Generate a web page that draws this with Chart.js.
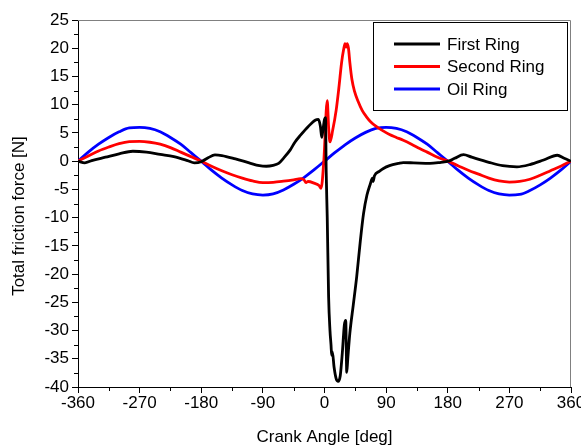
<!DOCTYPE html>
<html>
<head>
<meta charset="utf-8">
<script src="https://cdn.jsdelivr.net/npm/chart.js@4.4.1/dist/chart.umd.min.js"></script>
<style>
  html, body { margin: 0; padding: 0; background: #fff; }
  canvas { display: block; }
</style>
</head>
<body>
<canvas id="frictionChart" width="581" height="448"></canvas>
<script>
// [crank angle (deg), friction force (N)]
const seriesNames = ['First Ring', 'Second Ring', 'Oil Ring'];
const seriesColors = ['#000000', '#ff0000', '#0000ff'];

const firstRing = [
  [-360, 0], [-350, -0.3], [-340, 0.1], [-320, 0.7], [-300, 1.3], [-280, 1.75], [-260, 1.6],
  [-240, 1.2], [-220, 0.8], [-200, 0.1], [-190, -0.3], [-180, -0.1], [-170, 0.6], [-160, 1.1],
  [-150, 1.0], [-130, 0.4], [-110, -0.3], [-95, -0.8], [-85, -0.9], [-75, -0.75], [-67, -0.4],
  [-60, 0.5], [-50, 2.0], [-43, 3.4], [-35, 4.6], [-24, 6.1], [-13, 7.3], [-9, 7.4], [-6, 6.2],
  [-4, 4.2], [-2, 5.8], [0, 7.4], [1.5, 7.7], [2.5, -2], [4, -10], [6, -24], [8, -30],
  [9.5, -32.5], [10.5, -34.4], [11.5, -33.8], [14, -36.5], [17, -38.5], [20, -39], [23, -38],
  [26, -34], [29, -29], [31, -28.2], [32.5, -37.4], [34, -35], [37, -30.5], [42, -25.5],
  [47, -20.5], [52, -14.5], [57, -9.3], [62, -6.0], [67, -4.0], [70, -3.0], [71, -3.6],
  [73, -2.6], [80, -1.8], [86, -1.3], [95, -0.8], [108, -0.4], [115, -0.25], [130, -0.3],
  [154, -0.4], [170, -0.2], [181, 0], [190, 0.5], [203, 1.15], [215, 0.7], [240, -0.2],
  [260, -0.8], [281, -1.0], [300, -0.6], [320, 0.2], [340, 1.05], [350, 0.5], [360, 0]
];

const secondRing = [
  [-360, 0], [-345, 0.9], [-330, 1.8], [-315, 2.5], [-300, 3.1], [-285, 3.45], [-270, 3.5],
  [-255, 3.35], [-240, 3.0], [-225, 2.4], [-210, 1.6], [-195, 0.8], [-180, 0], [-165, -0.9],
  [-150, -1.7], [-135, -2.4], [-120, -3.0], [-105, -3.5], [-90, -3.8], [-75, -3.75],
  [-60, -3.55], [-45, -3.3], [-35, -3.1], [-30, -3.3], [-27, -3.8], [-24, -3.6], [-15, -3.9],
  [-8, -4.3], [-5, -4.8], [-1, 0], [4, 10.7], [6, 6], [8, 3.4], [12, 5.5], [17, 9], [21, 13],
  [25, 17.5], [28, 19.8], [30, 20.8], [32, 20.2], [33, 20.8], [35, 20], [37, 17.5], [40, 14.5],
  [44, 12.3], [49, 10.6], [55, 9], [61, 7.9], [68, 6.9], [76, 6.1], [85, 5.4], [95, 4.7],
  [105, 4.2], [115, 3.7], [127, 3.0], [139, 2.25], [150, 1.6], [165, 0.7], [180, 0],
  [195, -0.8], [210, -1.6], [225, -2.3], [240, -3.0], [255, -3.5], [270, -3.7], [285, -3.6],
  [300, -3.2], [315, -2.5], [330, -1.7], [345, -0.9], [360, 0]
];

const oilRing = [
  [-360, 0], [-345, 1.6], [-330, 3.0], [-315, 4.2], [-300, 5.2], [-285, 5.9], [-270, 6.0],
  [-255, 5.8], [-240, 5.2], [-225, 4.2], [-210, 3.0], [-195, 1.5], [-180, 0], [-165, -1.6],
  [-150, -3.0], [-135, -4.2], [-120, -5.2], [-105, -5.8], [-90, -6.0], [-75, -5.8],
  [-60, -5.1], [-45, -4.1], [-30, -2.9], [-15, -1.5], [0, 0], [15, 1.5], [30, 2.9],
  [45, 4.1], [60, 5.1], [75, 5.8], [90, 6.0], [105, 5.8], [120, 5.2], [135, 4.2], [150, 3.0],
  [165, 1.5], [180, 0], [195, -1.6], [210, -3.0], [225, -4.2], [240, -5.2], [255, -5.8],
  [270, -6.0], [285, -5.9], [300, -5.2], [315, -4.2], [330, -3.0], [345, -1.6], [360, 0]
];

const FONT = 'Liberation Sans, Arial, sans-serif';
const FSIZE = 17;

function toPoints(pairs) {
  return pairs.map(p => ({ x: p[0], y: p[1] }));
}

// gray frame on top/right, minor ticks
const framePlugin = {
  id: 'frame',
  beforeDatasetsDraw(chart) {
    const { ctx, chartArea: a, scales } = chart;
    ctx.save();
    ctx.strokeStyle = '#808080';
    ctx.lineWidth = 1;
    ctx.beginPath();
    ctx.moveTo(a.left, a.top + 0.5);
    ctx.lineTo(a.right - 0.5, a.top + 0.5);
    ctx.lineTo(a.right - 0.5, a.bottom);
    ctx.stroke();

    ctx.strokeStyle = '#000';
    ctx.beginPath();
    for (let v = -315; v < 360; v += 90) {
      const x = Math.round(scales.x.getPixelForValue(v)) + 0.5;
      ctx.moveTo(x, a.bottom);
      ctx.lineTo(x, a.bottom + 4);
    }
    for (let v = -37.5; v < 25; v += 5) {
      const y = Math.round(scales.y.getPixelForValue(v)) + 0.5;
      ctx.moveTo(a.left, y);
      ctx.lineTo(a.left - 4, y);
    }
    ctx.stroke();
    ctx.restore();
  }
};

// boxed legend in the top right corner, and the y axis title
const legendPlugin = {
  id: 'boxLegend',
  afterDraw(chart) {
    const ctx = chart.ctx;
    ctx.save();
    ctx.fillStyle = '#fff';
    ctx.fillRect(373, 22, 194, 88);
    ctx.strokeStyle = '#000';
    ctx.lineWidth = 1;
    ctx.strokeRect(373.5, 22.5, 194, 88);
    ctx.font = FSIZE + 'px ' + FONT;
    ctx.textBaseline = 'middle';
    chart.data.datasets.forEach((ds, i) => {
      const y = 44 + i * 22.5;
      ctx.strokeStyle = ds.borderColor;
      ctx.lineWidth = 3;
      ctx.beginPath();
      ctx.moveTo(394, y);
      ctx.lineTo(440, y);
      ctx.stroke();
      ctx.fillStyle = '#000';
      ctx.fillText(ds.label, 447, y + 1);
    });

    ctx.translate(19, 216);
    ctx.rotate(-Math.PI / 2);
    ctx.textAlign = 'center';
    ctx.fillStyle = '#000';
    ctx.fillText('Total friction force [N]', 0, 0);
    ctx.restore();
  }
};

const chart = new Chart(document.getElementById('frictionChart').getContext('2d'), {
  type: 'line',
  data: {
    datasets: [firstRing, secondRing, oilRing].map((s, i) => ({
      label: seriesNames[i],
      data: toPoints(s),
      borderColor: seriesColors[i],
      backgroundColor: seriesColors[i],
      borderWidth: 2.8,
      pointRadius: 0,
      cubicInterpolationMode: 'monotone',
      fill: false
    }))
  },
  options: {
    responsive: false,
    animation: false,
    devicePixelRatio: 1,
    layout: { padding: { top: 20, right: 10, left: 0, bottom: 0 } },
    plugins: {
      legend: { display: false },
      tooltip: { enabled: false }
    },
    scales: {
      x: {
        type: 'linear',
        min: -360,
        max: 360,
        ticks: { stepSize: 90, color: '#000', font: { family: FONT, size: FSIZE }, padding: 0, maxRotation: 0 },
        grid: { drawOnChartArea: false, color: '#000', tickLength: 6 },
        border: { color: '#000', width: 1 },
        title: { display: true, text: 'Crank Angle [deg]', color: '#000', font: { family: FONT, size: FSIZE }, padding: { top: 0, bottom: 0 } },
        afterFit(s) { s.height = 61; s.paddingLeft = 0; s.paddingRight = 0; }
      },
      y: {
        min: -40,
        max: 25,
        ticks: { stepSize: 5, color: '#000', font: { family: FONT, size: FSIZE }, padding: 3 },
        grid: { drawOnChartArea: false, color: '#000', tickLength: 6 },
        border: { color: '#000', width: 1 },
        afterFit(s) { s.width = 78; }
      }
    }
  },
  plugins: [framePlugin, legendPlugin]
});
</script>
</body>
</html>
